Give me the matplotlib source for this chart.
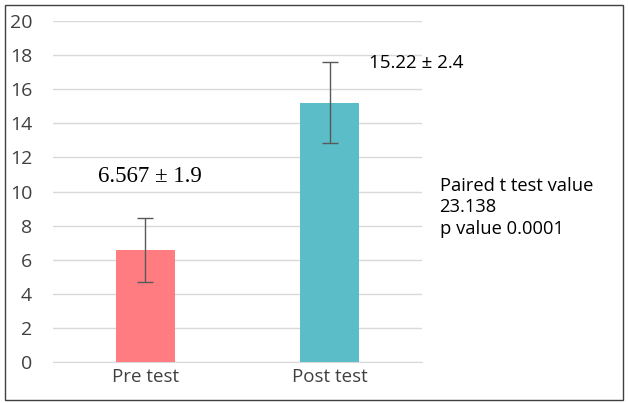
import matplotlib
matplotlib.use("Agg")
import matplotlib.pyplot as plt
from matplotlib.patches import Rectangle

categories = ["Pre test", "Post test"]
means = [6.567, 15.22]
sds = [1.9, 2.4]
colors = ["#FF7C80", "#5BBDC8"]
yticks = [0, 2, 4, 6, 8, 10, 12, 14, 16, 18, 20]

fig = plt.figure(figsize=(6.28, 4.03), dpi=100)
ax = fig.add_axes([0.0844, 0.1017, 0.588, 0.846])

x = list(range(len(categories)))
ax.bar(x, means, width=0.32, color=colors, zorder=3)
ax.errorbar(x, means, yerr=sds, fmt="none", ecolor="#595959", elinewidth=1,
            capsize=6, capthick=1, zorder=4)

ax.set_xlim(-0.5, 1.5)
ax.set_ylim(0, 20)
ax.set_yticks(yticks)
ax.set_yticklabels([str(t) for t in yticks], fontsize=14, family="Open Sans")
ax.set_xticks(x)
ax.set_xticklabels(categories, fontsize=13.5, family="Open Sans")
ax.yaxis.grid(True, color="#d9d9d9", linewidth=1, zorder=0)
for s in ax.spines.values():
    s.set_visible(False)
ax.spines["bottom"].set_visible(True)
ax.spines["bottom"].set_color("#d9d9d9")
ax.tick_params(axis="both", length=0, colors="#404040", pad=4)
ax.tick_params(axis="y", pad=15)
for lbl in ax.get_yticklabels():
    lbl.set_horizontalalignment("right")

ax.text(0.025, 10.9, "6.567 ± 1.9", fontsize=16.5, family="Liberation Serif",
        ha="center", va="center", color="#000000")
ax.text(1.21, 17.55, "15.22 ± 2.4", fontsize=13.5, family="Open Sans",
        ha="left", va="center", color="#000000")

fig.text(0.700, 0.486, "Paired t test value\n23.138\np value 0.0001", fontsize=13.2,
         family="Open Sans", ha="left", va="center", linespacing=1.25)

fig.patches.append(Rectangle((5 / 628, 3 / 403), 618 / 628, 395 / 403,
                             transform=fig.transFigure, fill=False,
                             edgecolor="#404040", linewidth=1))

fig.savefig("out.png", dpi=100)
